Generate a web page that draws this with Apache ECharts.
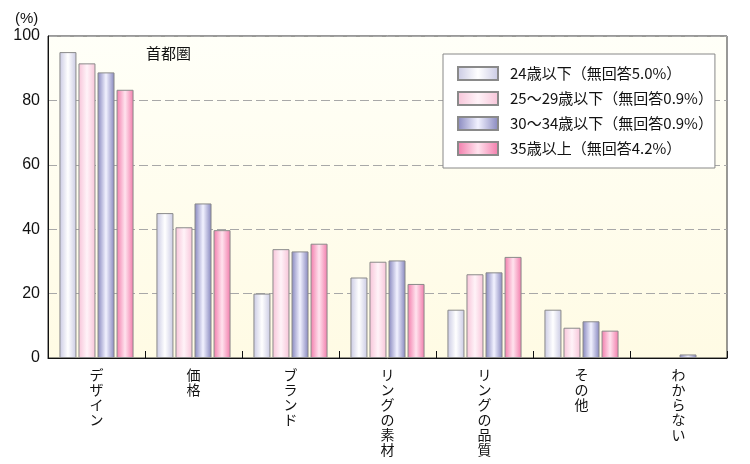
<!DOCTYPE html>
<html><head><meta charset="utf-8">
<script src="https://cdn.jsdelivr.net/npm/echarts@6/dist/echarts.min.js"></script>
<style>html,body{margin:0;padding:0;background:#fff}#c{width:750px;height:464px}</style>
</head><body><div id="c"></div>
<script>
const categories = ['デザイン','価格','ブランド','リングの素材','リングの品質','その他','わからない'];
const seriesNames = ['24歳以下（無回答5.0%）','25～29歳以下（無回答0.9%）','30～34歳以下（無回答0.9%）','35歳以上（無回答4.2%）'];
const s24 = [95.0, 45.0, 20.0, 25.0, 15.0, 15.0, null];
const s25_29 = [91.5, 40.6, 33.8, 29.9, 26.0, 9.4, null];
const s30_34 = [88.7, 48.0, 33.1, 30.3, 26.6, 11.4, 1.1];
const s35 = [83.3, 39.7, 35.5, 23.0, 31.4, 8.5, null];
const yTicks = [0, 20, 40, 60, 80, 100];

const font = '"Noto Sans CJK JP", "Noto Sans", sans-serif';
const numFont = '"Liberation Sans", Arial, sans-serif';
function grad(edge, mid) {
  return new echarts.graphic.LinearGradient(0, 0, 1, 0, [
    {offset: 0, color: edge}, {offset: 0.5, color: mid}, {offset: 1, color: edge}
  ]);
}
const colors = [
  grad('#c9c9e3', '#ffffff'),
  grad('#f7c3d8', '#fff3f8'),
  grad('#8585bd', '#f2f2ff'),
  grad('#f27aaa', '#ffe3ee')
];
const data = [s24, s25_29, s30_34, s35];
const chart = echarts.init(document.getElementById('c'));
chart.setOption({
  animation: false,
  textStyle: {fontFamily: font},
  grid: {left: 48, right: 23, top: 36, bottom: 106, show: true, borderColor: '#333', borderWidth: 1,
    outerBoundsMode: 'none', containLabel: false,
    backgroundColor: new echarts.graphic.LinearGradient(0, 0, 0, 1, [
      {offset: 0, color: '#fffff8'}, {offset: 1, color: '#fffbe4'}
    ])},
  legend: {
    left: 443, top: 54, orient: 'vertical', itemWidth: 40, itemHeight: 13, itemGap: 10,
    padding: [12, 2, 12, 14], icon: 'rect',
    borderColor: '#888', borderWidth: 1, backgroundColor: '#fff',
    textStyle: {fontSize: 15, color: '#111', fontFamily: font, padding: [0, 0, 0, 7]},
    data: seriesNames
  },
  graphic: [
    {type: 'text', left: 15, top: 11, style: {text: '(%)', fontSize: 15, fill: '#111', fontFamily: numFont}},
    {type: 'text', left: 146, top: 46, style: {text: '首都圏', fontSize: 15, fill: '#111', fontFamily: font}}
  ],
  xAxis: {
    type: 'category', data: categories,
    axisLine: {lineStyle: {color: '#111', width: 1}},
    axisTick: {show: true, inside: true, length: 7, lineStyle: {color: '#111'}},
    axisLabel: {
      interval: 0, margin: 9, fontSize: 14, color: '#111', lineHeight: 15,
      verticalAlign: 'top', fontFamily: font,
      formatter: v => v.split('').join('\n')
    }
  },
  yAxis: {
    type: 'value', min: 0, max: 100, interval: 20,
    axisLine: {show: true, lineStyle: {color: '#111'}},
    axisTick: {show: false},
    axisLabel: {fontSize: 16, color: '#111', margin: 8, fontFamily: numFont,
      formatter: v => yTicks.includes(v) ? String(v) : ''},
    splitLine: {lineStyle: {color: '#a8a8a8', type: [9, 4], width: 1}}
  },
  series: data.map((d, i) => ({
    name: seriesNames[i], type: 'bar', data: d, barWidth: 17, barGap: '12%',
    itemStyle: {color: colors[i], borderColor: '#8a8a8a', borderWidth: 1}
  }))
});
</script></body></html>
